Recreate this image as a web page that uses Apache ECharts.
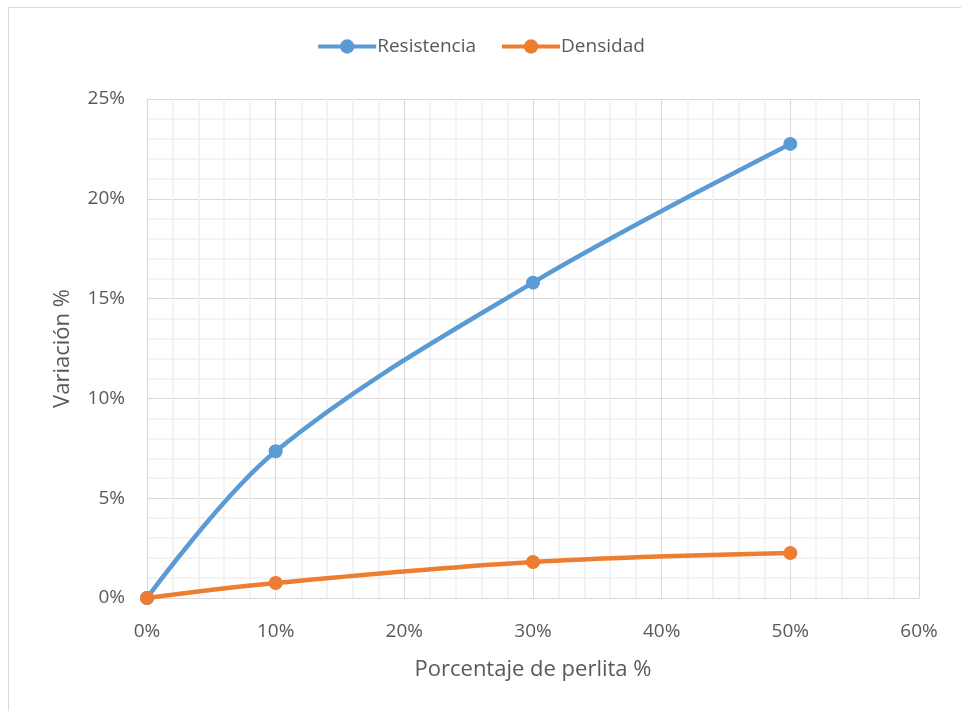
<!DOCTYPE html>
<html><head><meta charset="utf-8">
<script src="https://cdn.jsdelivr.net/npm/echarts@6/dist/echarts.min.js"></script>
<style>html,body{margin:0;padding:0;background:#fff}#c{width:961px;height:711px}</style>
</head><body><div id="c"></div>
<script>
const perlita = [0, 10, 30, 50];
const resistencia = [0, 7.35, 15.8, 22.75];
const densidad = [0, 0.75, 1.8, 2.25];
const seriesNames = ['Resistencia', 'Densidad'];

const chart = echarts.init(document.getElementById('c'));
const font = 'Open Sans';
chart.setOption({
  animation: false,
  textStyle: {fontFamily: font},
  graphic: [{type: 'rect', shape: {x: 8.5, y: 7.5, width: 1000, height: 800}, style: {fill: 'none', stroke: '#d9d9d9', lineWidth: 1}, silent: true, z: -10}],
  legend: {
    top: 32, left: 'center', itemWidth: 58, itemHeight: 18, itemGap: 24,
    lineStyle: {width: 4},
    textStyle: {fontSize: 19, color: '#595959', fontFamily: font, padding: [0,0,0,-4]},
    data: seriesNames
  },
  grid: {left: 147, right: 42, top: 99, bottom: 113},
  xAxis: {
    type: 'value', min: 0, max: 60, interval: 10,
    name: 'Porcentaje de perlita %', nameLocation: 'middle', nameGap: 61,
    nameTextStyle: {fontSize: 22, color: '#595959', fontFamily: font},
    axisLine: {show: true, lineStyle: {color: '#d9d9d9'}},
    axisTick: {show: false},
    axisLabel: {formatter: v => v + '%', fontSize: 19, color: '#595959', margin: 24},
    splitLine: {show: true, lineStyle: {color: '#d9d9d9', width: 1}},
    minorTick: {show: false, splitNumber: 5},
    minorSplitLine: {show: true, lineStyle: {color: '#f0f0f0', width: 1.5}}
  },
  yAxis: {
    type: 'value', min: 0, max: 25, interval: 5,
    name: 'Variación %', nameLocation: 'middle', nameGap: 73,
    nameTextStyle: {fontSize: 22, color: '#595959', fontFamily: font},
    axisLine: {show: true, lineStyle: {color: '#d9d9d9'}},
    axisTick: {show: false},
    axisLabel: {formatter: v => v + '%', fontSize: 19, color: '#595959', margin: 22},
    splitLine: {show: true, lineStyle: {color: '#d9d9d9', width: 1}},
    minorTick: {show: false, splitNumber: 5},
    minorSplitLine: {show: true, lineStyle: {color: '#f0f0f0', width: 1.5}}
  },
  series: [
    {name: seriesNames[0], type: 'line', smooth: 0.35, symbol: 'circle', symbolSize: 14,
     data: perlita.map((x, i) => [x, resistencia[i]]),
     lineStyle: {width: 4.5, color: '#5b9bd5'}, itemStyle: {color: '#5b9bd5'}},
    {name: seriesNames[1], type: 'line', smooth: 0.35, symbol: 'circle', symbolSize: 14,
     data: perlita.map((x, i) => [x, densidad[i]]),
     lineStyle: {width: 4.5, color: '#ed7d31'}, itemStyle: {color: '#ed7d31'}}
  ]
});
</script></body></html>
